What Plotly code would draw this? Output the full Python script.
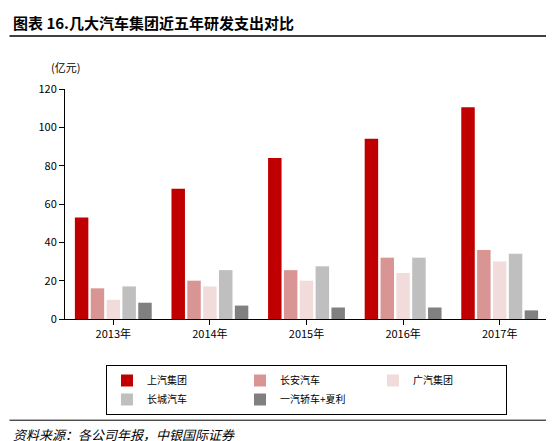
import plotly.graph_objects as go

years = ["2013年", "2014年", "2015年", "2016年", "2017年"]
series_names = ["上汽集团", "长安汽车", "广汽集团", "长城汽车", "一汽轿车+夏利"]
saic = [53, 68, 84, 94, 110.5]
changan = [16, 20, 25.5, 32, 36]
gac = [10, 17, 20, 24, 30]
gwm = [17, 25.5, 27.5, 32, 34]
faw = [8.5, 7, 6, 6, 4.5]
colors = ["#C00000", "#D99594", "#F2DCDB", "#BFBFBF", "#808080"]

fig = go.Figure()
for name, vals, c in zip(series_names, [saic, changan, gac, gwm, faw], colors):
    fig.add_trace(go.Bar(x=years, y=vals, name=name, marker_color=c, marker_line_width=0))

font = "Noto Sans CJK SC"
fig.update_layout(
    width=554, height=441, plot_bgcolor="white", paper_bgcolor="white",
    font=dict(family=font, size=11, color="black"),
    barmode="group", bargap=0.18, bargroupgap=0.15,
    margin=dict(l=57, r=14, t=81, b=130, autoexpand=False),
    showlegend=True,
    legend=dict(orientation="h", x=0.5, xanchor="center", y=-0.2, yanchor="top",
                bordercolor="black", borderwidth=1, font=dict(size=10),
                itemwidth=30, entrywidth=88, tracegroupgap=0),
    xaxis=dict(showline=True, linecolor="black", ticks="outside", tickcolor="black",
               tickfont=dict(size=11, family="Liberation Sans Narrow, " + font)),
    yaxis=dict(range=[0, 120], dtick=20, showline=True, linecolor="black",
               ticks="outside", tickcolor="black", showgrid=False,
               tickfont=dict(size=11)),
    annotations=[
        dict(text="<b>图表 16.几大汽车集团近五年研发支出对比</b>", x=0.0, y=1.0,
             xref="paper", yref="paper", xanchor="left", yanchor="top",
             font=dict(size=15), showarrow=False, xshift=-54, yshift=79),
        dict(text="(亿元)", x=0, y=1.0, xref="paper", yref="paper", xanchor="center",
             yanchor="bottom", showarrow=False, yshift=12, font=dict(size=11)),
        dict(text="<i>资料来源：各公司年报，中银国际证券</i>", x=0, y=0, xref="paper", yref="paper",
             xanchor="left", yanchor="top", showarrow=False, xshift=-54, yshift=-104,
             font=dict(size=13)),
    ],
    shapes=[
        dict(type="line", xref="paper", yref="paper", x0=-0.115, x1=1.03, y0=1.23, y1=1.23,
             line=dict(color="black", width=1.5)),
        dict(type="line", xref="paper", yref="paper", x0=-0.115, x1=1.03, y0=-0.44, y1=-0.44,
             line=dict(color="black", width=1)),
    ],
)
fig.write_html("out.html")
